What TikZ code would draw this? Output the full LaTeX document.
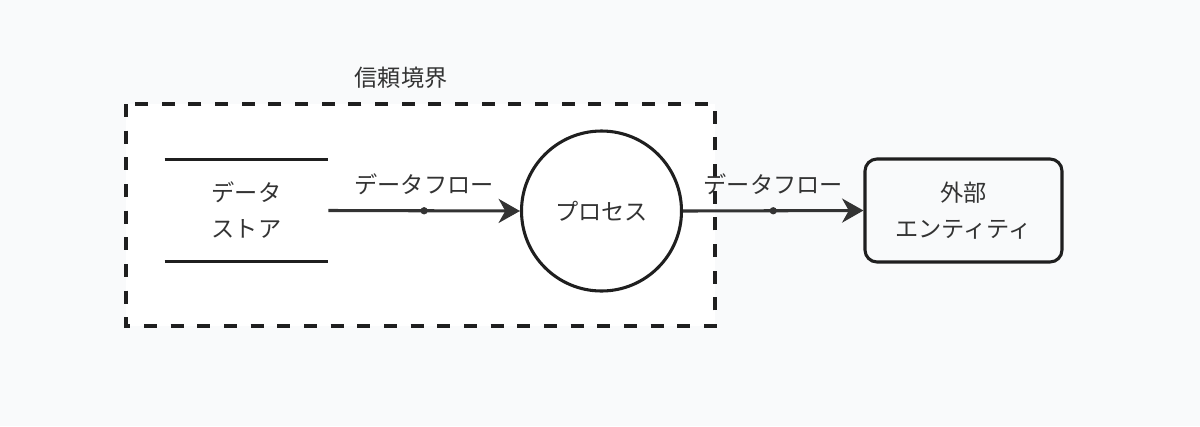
\documentclass[tikz,border=0pt]{standalone}
\usepackage{fontspec}
\setmainfont{Noto Sans CJK JP}
\usetikzlibrary{positioning, arrows.meta}
\definecolor{bgcol}{HTML}{F9FAFB}
\definecolor{ink}{HTML}{1F1F1F}
\definecolor{flowcol}{HTML}{333333}
\definecolor{txt}{HTML}{333333}

\begin{document}
\begin{tikzpicture}[
  x=0.75pt, y=-0.75pt,
  every node/.style={font=\fontsize{17.4pt}{27pt}\selectfont, text=txt, align=center},
  store/.style={minimum width=122.25pt, minimum height=75.75pt, inner sep=0pt},
  proc/.style={circle, draw=ink, line width=2.3pt, minimum size=120pt, inner sep=0pt},
  entity/.style={draw=ink, line width=2.3pt, rounded corners=9pt, minimum width=147.75pt, minimum height=77.25pt, inner sep=0pt},
  boundary/.style={draw=ink, fill=white, line width=2.5pt, dash pattern=on 9.75pt off 10.25pt},
  flow/.style={draw=flowcol, line width=2.3pt, -{Stealth[length=16pt, width=18pt, inset=5pt]}},
  dot/.style={circle, fill=flowcol, minimum size=5.5pt, inner sep=0pt},
  lbl/.style={yshift=19.5pt}
]
  % background and frame
  \fill[bgcol] (0,0) rectangle (1200,426);
  \useasboundingbox (0,0) rectangle (1200,426);

  % trust boundary
  \draw[boundary] (126,104) rectangle (715,326);
  \node (tblabel) at (401,78) {信頼境界};

  % data store (open-ended box)
  \node[store] (ds) at (246.5,210.5) {データ\\ストア};
  \draw[ink, line width=2.3pt] (ds.north west) -- (ds.north east);
  \draw[ink, line width=2.3pt] (ds.south west) -- (ds.south east);

  % process
  \node[proc] (pr) at (601.5,211) {プロセス};

  % external entity
  \node[entity] (ext) at (963.5,210.5) {外部\\エンティティ};

  % data flows
  \draw[flow] (ds.east) -- node[dot] (d1) {} node[lbl] (f1) {データフロー} (pr.west);
  \draw[flow] (pr.east) -- node[dot] (d2) {} node[lbl] (f2) {データフロー} (ext.west);
\end{tikzpicture}
\end{document}
